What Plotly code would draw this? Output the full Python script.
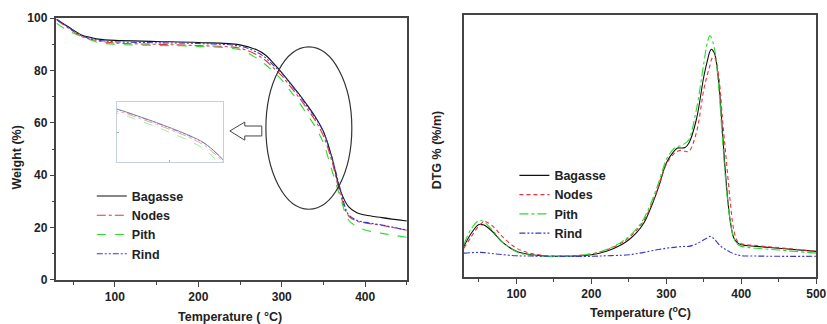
import plotly.graph_objects as go

# ---- TGA data (weight %) ----
tga_T = [30, 45, 60, 70, 80, 100, 150, 200, 250, 270, 280, 290, 300, 310, 320, 330, 340, 350, 360, 370, 380, 390, 400, 420, 450]
tga_bagasse = [99.6, 96.5, 93.6, 92.7, 92.0, 91.5, 91.1, 90.7, 89.8, 87.9, 86.0, 82.8, 79.2, 75.3, 71.3, 67.0, 62.4, 56.7, 47.0, 34.4, 28.0, 25.7, 24.8, 23.8, 22.5]
tga_nodes = [99.4, 96.0, 93.0, 92.0, 91.3, 90.5, 90.0, 89.5, 88.5, 86.0, 84.0, 81.0, 78.0, 74.0, 70.0, 65.6, 61.0, 55.0, 45.5, 33.0, 24.5, 22.5, 21.8, 20.8, 19.0]
tga_pith = [98.1, 95.0, 93.0, 91.8, 90.7, 90.0, 89.6, 89.2, 87.9, 84.7, 82.4, 79.6, 76.4, 72.3, 68.2, 63.4, 58.6, 52.2, 42.0, 31.8, 22.9, 20.4, 19.1, 17.8, 16.3]
tga_rind = [99.6, 96.3, 93.3, 92.3, 91.6, 91.0, 90.6, 90.3, 89.3, 87.0, 85.0, 82.0, 79.0, 75.0, 71.0, 66.5, 62.0, 56.5, 47.0, 35.0, 25.0, 22.8, 22.0, 21.0, 19.0]

# ---- DTG data (arbitrary units) ----
dtg_T = [30, 40, 50, 57, 60, 70, 80, 100, 120, 150, 200, 220, 240, 250, 260, 270, 280, 290, 300, 310, 315, 320, 325, 330, 340, 350, 355, 358, 360, 362, 365, 370, 375, 380, 385, 390, 395, 400, 420, 450, 500]
dtg_bagasse = [11.7, 16.8, 20.0, 19.8, 19.3, 16.8, 13.6, 9.8, 8.5, 7.9, 8.5, 9.8, 12.3, 14.2, 16.8, 20.6, 26.9, 34.6, 43.5, 47.9, 49.2, 49.2, 49.4, 51.0, 60.0, 76.5, 82.8, 86.0, 86.9, 86.5, 84.7, 74.0, 54.9, 35.8, 21.9, 14.9, 13.0, 12.3, 11.7, 11.0, 9.8]
dtg_nodes = [11.0, 15.5, 19.5, 21.2, 21.0, 19.0, 15.8, 11.0, 9.0, 8.0, 8.8, 10.3, 13.0, 15.0, 17.8, 21.5, 27.5, 35.0, 43.0, 47.0, 48.0, 48.3, 48.0, 47.9, 55.0, 71.5, 77.5, 80.5, 82.8, 83.8, 83.5, 76.5, 60.0, 44.7, 29.5, 18.0, 13.6, 12.7, 12.0, 11.2, 9.8]
dtg_pith = [12.5, 18.5, 21.5, 21.0, 20.3, 17.2, 13.8, 9.6, 8.3, 7.8, 8.8, 10.5, 13.3, 15.5, 18.3, 22.3, 28.5, 36.3, 44.8, 49.0, 49.8, 50.2, 51.0, 52.4, 63.8, 81.6, 89.8, 92.0, 91.5, 89.8, 86.0, 72.0, 52.0, 34.0, 21.9, 14.9, 12.5, 11.7, 11.0, 10.3, 9.1]
dtg_rind = [9.1, 9.3, 9.4, 9.3, 9.2, 8.9, 8.6, 8.1, 8.0, 7.9, 7.9, 8.1, 8.3, 8.5, 8.9, 9.4, 10.0, 10.5, 11.0, 11.3, 11.5, 11.6, 11.7, 11.7, 12.6, 14.2, 15.0, 15.5, 15.3, 15.0, 14.2, 12.5, 11.2, 10.4, 9.5, 8.9, 8.5, 8.1, 8.0, 7.9, 7.9]

names = ["Bagasse", "Nodes", "Pith", "Rind"]
colors = ["#111111", "#e8343a", "#2fd92f", "#3838c8"]
dash_left = ["solid", "dashdot", "dash", "6px,2px,2px,2px,2px,2px"]
dash_right = ["solid", "4px,3px", "dashdot", "6px,2px,2px,2px,2px,2px"]

tga = [tga_bagasse, tga_nodes, tga_pith, tga_rind]
dtg = [dtg_bagasse, dtg_nodes, dtg_pith, dtg_rind]

fig = go.Figure()
for i in range(4):
    fig.add_trace(go.Scatter(x=tga_T, y=tga[i], mode="lines", name=names[i], line_shape="spline",
                             line=dict(color=colors[i], width=1.1, dash=dash_left[i]),
                             xaxis="x", yaxis="y", legend="legend"))
for i in range(4):
    fig.add_trace(go.Scatter(x=dtg_T, y=dtg[i], mode="lines", name=names[i], line_shape="spline",
                             line=dict(color=colors[i], width=1.1, dash=dash_right[i]),
                             xaxis="x2", yaxis="y2", legend="legend2"))
# inset (zoom of the ellipse region)
for i in range(4):
    fig.add_trace(go.Scatter(x=tga_T, y=tga[i], mode="lines", showlegend=False, line_shape="spline",
                             opacity=0.45, line=dict(color=colors[i], width=1, dash=dash_left[i]),
                             xaxis="x3", yaxis="y3"))

tickfont = dict(family="Liberation Sans, Arial", size=12, color="#222", weight="bold")
axcommon = dict(showgrid=False, zeroline=False, showline=True, linecolor="#444", linewidth=1.5,
                mirror=True, ticks="outside", ticklen=5, tickcolor="#444", tickfont=tickfont)
minor_x = dict(dtick=50, tick0=0, ticklen=3, ticks="outside", tickcolor="#444")

fig.update_layout(
    width=827, height=324, margin=dict(l=0, r=0, t=0, b=0, autoexpand=False),
    paper_bgcolor="white", plot_bgcolor="white",
    xaxis=dict(domain=[0.0683, 0.492], range=[30, 450], tickvals=[100, 200, 300, 400],
               minor=minor_x, anchor="y", **axcommon),
    yaxis=dict(domain=[0.136, 0.944], range=[0, 100], tickvals=[0, 20, 40, 60, 80, 100],
               minor=dict(dtick=10, tick0=0, ticklen=3, ticks="outside", tickcolor="#444"), anchor="x", **axcommon),
    xaxis2=dict(domain=[0.561, 0.987], range=[30, 500], tickvals=[100, 200, 300, 400, 500],
                minor=minor_x, anchor="y2", **axcommon),
    yaxis2=dict(domain=[0.145, 0.954], range=[0, 100], showticklabels=False, anchor="x2",
                **{k: v for k, v in axcommon.items() if k not in ("ticks",)}, ticks=""),
    xaxis3=dict(domain=[0.1415, 0.2697], range=[295, 362], showticklabels=False, showgrid=False, zeroline=False,
                showline=True, mirror=True, linecolor="#c4d0e0", linewidth=1, ticks="inside", ticklen=2,
                tickcolor="#9aa", tickvals=[328], anchor="y3"),
    yaxis3=dict(domain=[0.50, 0.685], range=[43, 86], showticklabels=False, showgrid=False, zeroline=False,
                showline=True, mirror=True, linecolor="#c4d0e0", linewidth=1, ticks="inside", ticklen=2,
                tickcolor="#9aa", tickvals=[64.5], anchor="x3"),
    legend=dict(x=0.111, y=0.44, xanchor="left", yanchor="top", bgcolor="rgba(0,0,0,0)",
                font=dict(family="Liberation Sans, Arial", size=12.5, color="#222", weight="bold"),
                tracegroupgap=0, itemwidth=30),
    legend2=dict(x=0.622, y=0.504, xanchor="left", yanchor="top", bgcolor="rgba(0,0,0,0)",
                 font=dict(family="Liberation Sans, Arial", size=12.5, color="#222", weight="bold"),
                 tracegroupgap=0, itemwidth=30),
    showlegend=True,
)

lab = dict(family="Liberation Sans, Arial", size=12.5, color="#222", weight="bold")
fig.add_annotation(text="Weight (%)", x=0.021, y=0.515, xref="paper", yref="paper", textangle=-90,
                   xanchor="center", yanchor="middle", showarrow=False, font=lab)
fig.add_annotation(text="Temperature ( °C)", x=0.278, y=0.022, xref="paper", yref="paper",
                   xanchor="center", yanchor="middle", showarrow=False, font=lab)
fig.add_annotation(text="DTG % (%/m)", x=0.528, y=0.535, xref="paper", yref="paper", textangle=-90,
                   xanchor="center", yanchor="middle", showarrow=False, font=lab)
fig.add_annotation(text="Temperature (<sup>o</sup>C)", x=0.774, y=0.037, xref="paper", yref="paper",
                   xanchor="center", yanchor="middle", showarrow=False, font=lab)

# ellipse highlighting the decomposition region
fig.add_shape(type="circle", xref="x", yref="y", x0=281, x1=384, y0=27, y1=89,
              line=dict(color="#333", width=1.2))
# hollow arrow pointing to the inset
fig.add_shape(type="path", xref="x", yref="y",
              path="M 237.8,56.9 L 255.7,60.3 L 255.7,58.8 L 276.1,58.8 L 276.1,55.0 L 255.7,55.0 L 255.7,53.4 Z",
              line=dict(color="#444", width=1), fillcolor="white")

fig.write_html("out.html", config={"displayModeBar": False})
with open("out.html", "r", encoding="utf-8") as f:
    html = f.read()
html = html.replace("<body>", '<body style="margin:0;padding:0;overflow:hidden">', 1)
with open("out.html", "w", encoding="utf-8") as f:
    f.write(html)
